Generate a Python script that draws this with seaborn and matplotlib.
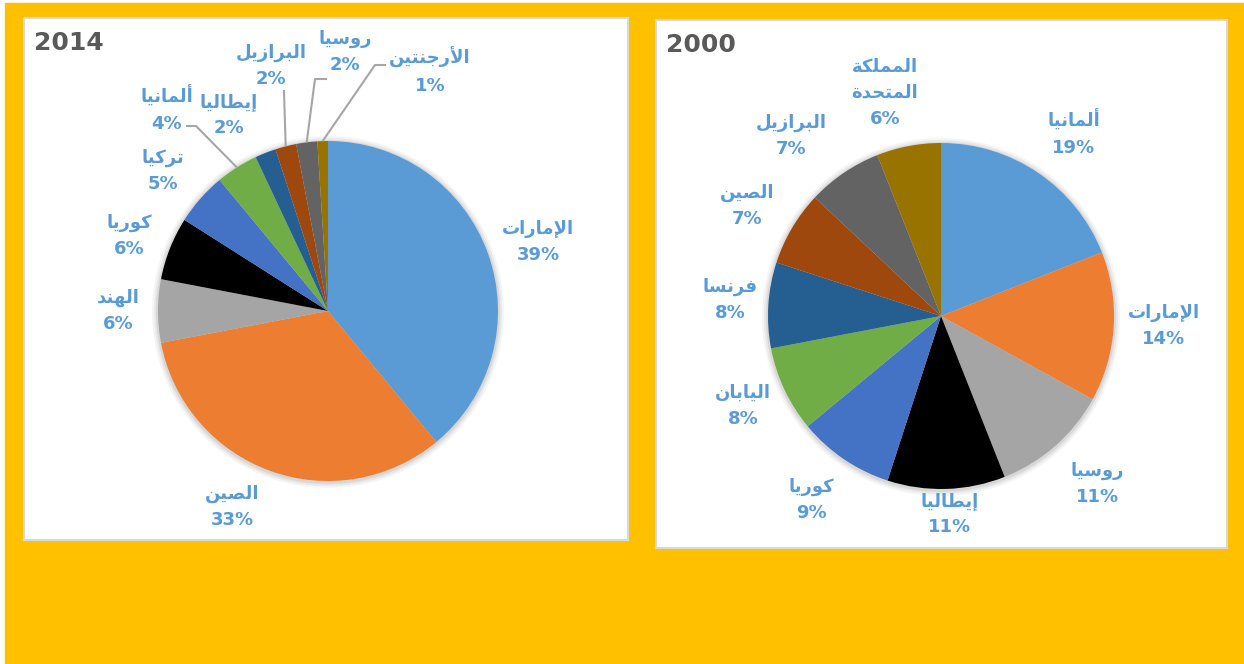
import matplotlib
matplotlib.use("Agg")
import matplotlib.pyplot as plt
import numpy as np
import seaborn as sns

# ---- data ----
names_2014 = ['الإمارات', 'الصين', 'الهند', 'كوريا', 'تركيا', 'ألمانيا',
              'إيطاليا', 'البرازيل', 'روسيا', 'الأرجنتين']
share_2014 = [39, 33, 6, 6, 5, 4, 2, 2, 2, 1]

names_2000 = ['ألمانيا', 'الإمارات', 'روسيا', 'إيطاليا', 'كوريا', 'اليابان',
              'فرنسا', 'الصين', 'البرازيل', 'المملكة\nالمتحدة']
share_2000 = [19, 14, 11, 11, 9, 8, 8, 7, 7, 6]

excel_colors = ['#5B9BD5', '#ED7D31', '#A5A5A5', '#000000', '#4472C4',
                '#70AD47', '#255E91', '#9E480E', '#636363', '#997300']

# ---- layout (pixels, y up, relative to pie centre) ----
lbl_pos_2014 = [(210, 69), (-96, -196), (-210, 0), (-199, 75), (-165, 140),
                (-161, 202), (-99, 196), (-57, 245), (17, 259), (102, 240)]
# label index -> (anchor, elbow) of the leader line
leaders_2014 = {5: ((-142, 185), (-132, 185)),
                7: ((-44, 221), (-44, 219)),
                8: ((-1, 232), (-13, 232)),
                9: ((58, 246), (47, 246))}
lbl_pos_2000 = [(133, 183), (223, -10), (156, -168), (9, -198), (-130, -184),
                (-198, -90), (-211, 16), (-194, 110), (-150, 180), (-56, 223)]

W, H = 1244, 664

# ---- minimal arabic shaping: matplotlib does no joining / bidi ----
AR_FORMS = {
    '\u0627': (0xFE8D, False), '\u0623': (0xFE83, False), '\u0625': (0xFE87, False),
    '\u0628': (0xFE8F, True), '\u0629': (0xFE93, False), '\u062A': (0xFE95, True),
    '\u062C': (0xFE9D, True), '\u062D': (0xFEA1, True), '\u062F': (0xFEA9, False),
    '\u0631': (0xFEAD, False), '\u0632': (0xFEAF, False), '\u0633': (0xFEB1, True),
    '\u0635': (0xFEB9, True), '\u0637': (0xFEC1, True), '\u0641': (0xFED1, True),
    '\u0643': (0xFED9, True), '\u0644': (0xFEDD, True), '\u0645': (0xFEE1, True),
    '\u0646': (0xFEE5, True), '\u0647': (0xFEE9, True), '\u0648': (0xFEED, False),
    '\u064A': (0xFEF1, True),
}
LAM_ALEF = {'\u0627': 0xFEFB, '\u0623': 0xFEF7, '\u0625': 0xFEF9}


def shape_line(line):
    units = []
    i = 0
    while i < len(line):
        c = line[i]
        if c == '\u0644' and i + 1 < len(line) and line[i + 1] in LAM_ALEF:
            units.append(('LA', LAM_ALEF[line[i + 1]]))
            i += 2
        else:
            units.append(('C', c))
            i += 1
    out = []
    for k, (kind, c) in enumerate(units):
        prev = units[k - 1] if k > 0 else None
        nxt = units[k + 1] if k + 1 < len(units) else None
        joins_prev = (prev is not None and prev[0] == 'C'
                      and prev[1] in AR_FORMS and AR_FORMS[prev[1]][1])
        if kind == 'LA':
            out.append(chr(c + (1 if joins_prev else 0)))
            continue
        if c not in AR_FORMS:
            out.append(c)
            continue
        base, dual = AR_FORMS[c]
        joins_next = dual and nxt is not None and (nxt[0] == 'LA' or nxt[1] in AR_FORMS)
        if joins_prev and joins_next:
            form = 3
        elif joins_prev:
            form = 1
        elif joins_next:
            form = 2
        else:
            form = 0
        out.append(chr(base + form))
    return ''.join(reversed(out))


def shape_ar(text):
    return '\n'.join(shape_line(l) for l in text.split('\n'))


sns.set_style("white")
plt.rcParams['font.family'] = ['DejaVu Sans']
palette = sns.color_palette(excel_colors)

fig = plt.figure(figsize=(W / 100, H / 100), dpi=100, facecolor='white')
fig.add_artist(plt.Rectangle((5 / W, 0), 1 - 5 / W, (H - 3) / H,
                             transform=fig.transFigure, color='#FFC000', zorder=0))


def draw_panel(box, centre, radius, year, names, shares, lbl_pos, leaders):
    x0, y0, x1, y1 = box            # image pixels
    cx, cy = centre
    ax = fig.add_axes([x0 / W, (H - y1) / H, (x1 - x0) / W, (y1 - y0) / H])
    ax.set_facecolor('white')

    # soft shadow behind the pie
    for grow, a in [(6, 0.04), (4, 0.05), (2, 0.07)]:
        ax.add_patch(plt.Circle((0, -1), radius + grow, color='black', alpha=a,
                                lw=0, zorder=1))

    wedges, _ = ax.pie(shares, colors=palette, startangle=90, counterclock=False,
                       radius=radius, center=(0, 0), frame=True,
                       wedgeprops=dict(linewidth=0, zorder=2))
    ax.set_xlim(x0 - cx, x1 - cx)
    ax.set_ylim(cy - y1, cy - y0)
    ax.set_aspect('auto')
    ax.set_xticks([])
    ax.set_yticks([])
    for sp in ax.spines.values():
        sp.set_color('#D9D9D9')
        sp.set_linewidth(1.5)

    ax.text(0.017, 0.952, year, transform=ax.transAxes, fontsize=18,
            fontweight='bold', color='#595959', ha='left', va='center')

    for i, (w, name, val) in enumerate(zip(wedges, names, shares)):
        lx, ly = lbl_pos[i]
        ax.text(lx, ly, f"{shape_ar(name)}\n{val}%", ha='center', va='center',
                multialignment='center', fontsize=13, fontweight='bold',
                color='#5B9BD5', linespacing=1.6, zorder=4)
        if i in leaders:
            (ax_, ay_), (ex, ey) = leaders[i]
            mid = np.deg2rad((w.theta1 + w.theta2) / 2)
            px, py = radius * np.cos(mid), radius * np.sin(mid)
            ax.plot([ax_, ex, px], [ay_, ey, py], color='#A6A6A6', lw=1.5,
                    zorder=3, solid_capstyle='butt')


draw_panel((24, 18, 628, 540), (328, 311), 170, '2014',
           names_2014, share_2014, lbl_pos_2014, leaders_2014)
draw_panel((656, 20, 1227, 548), (941, 316), 173, '2000',
           names_2000, share_2000, lbl_pos_2000, {})

fig.savefig('out.png', dpi=100, facecolor=fig.get_facecolor())
